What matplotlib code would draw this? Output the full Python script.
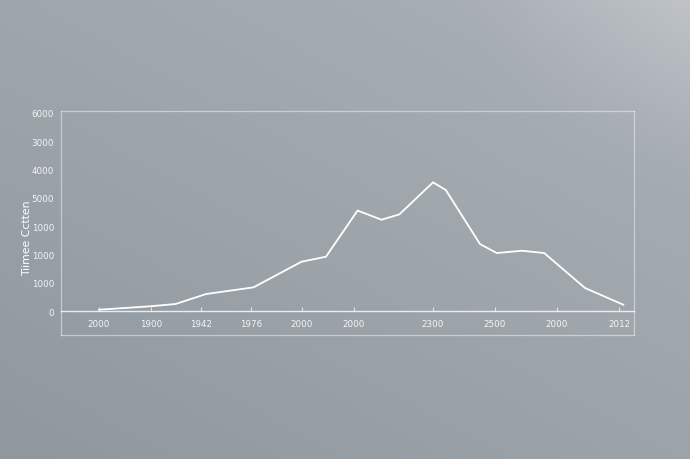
import numpy as np
import matplotlib
matplotlib.use("Agg")
import matplotlib.pyplot as plt
from matplotlib.colors import LinearSegmentedColormap

# data (x in tick-position units, y in values)
x_vals = [0, 1, 1.5, 2.1, 3.03, 3.97, 4.45, 5.07, 5.54, 5.89, 6.55, 6.8, 7.47, 7.8, 8.29, 8.73, 9.53, 10.28]
y_vals = [46, 166, 247, 600, 837, 1742, 1919, 3551, 3226, 3417, 4548, 4276, 2367, 2049, 2131, 2049, 813, 223]

x_ticks = [0, 1.02, 2, 2.98, 3.98, 5, 6.55, 7.76, 8.98, 10.2]
x_labels = ["2000", "1900", "1942", "1976", "2000", "2000", "2300", "2500", "2000", "2012"]
y_ticks = [0, 1000, 2000, 3000, 4000, 5000, 6000, 7000]
y_labels = ["0", "1000", "1000", "1000", "5000", "4000", "3000", "6000"]
y_title = "Tiimee Cctten"

W, H = 690, 460
fig = plt.figure(figsize=(W / 100, H / 100), dpi=100)

# gradient background
bg = fig.add_axes([0, 0, 1, 1])
gx, gy = np.meshgrid(np.linspace(0, 1, 200), np.linspace(0, 1, 200))
g = 0.45 * gx + 0.55 * gy
g = g + 0.35 * np.clip((gx - 0.7) * 2, 0, 1) * np.clip((gy - 0.6) * 2.5, 0, 1)
cmap = LinearSegmentedColormap.from_list("bg", ["#8f989f", "#9ba3a9", "#a5acb2", "#bfc3c8"])
bg.imshow(g, cmap=cmap, origin="lower", extent=[0, 1, 0, 1], aspect="auto")
bg.axis("off")

# plot area in pixels: x 61..634, y 112..336
left, right, top, bottom = 61, 634, 112, 336
ax = fig.add_axes([left / W, 1 - bottom / H, (right - left) / W, (bottom - top) / H])
ax.patch.set_alpha(0)

px_per_unit = 51.0
ax.set_xlim(-(99 - left) / px_per_unit, (right - 99) / px_per_unit)
px_per_k = 28.3
ax.set_ylim(-(bottom - 312) / px_per_k * 1000, 7000 + (114 - top) / px_per_k * 1000)

ax.plot(x_vals, y_vals, color="white", lw=1.3, solid_joinstyle="miter")

box_col = (1, 1, 1, 0.45)
for s in ["left", "right", "top"]:
    ax.spines[s].set_color(box_col)
    ax.spines[s].set_linewidth(0.9)
ax.spines["bottom"].set_position(("data", 0))
ax.spines["bottom"].set_color((1, 1, 1, 0.8))
ax.spines["bottom"].set_linewidth(1.0)
ax.plot([0, 1], [0, 0], transform=ax.transAxes, color=box_col, lw=0.9, clip_on=False)

ax.set_xticks(x_ticks)
ax.set_xticklabels(x_labels)
ax.tick_params(axis="x", direction="in", length=3, width=0.8, color=(1, 1, 1, 0.7),
               labelsize=6.3, labelcolor="#f4f5f6", pad=6)
ax.set_yticks(y_ticks)
ax.set_yticklabels(y_labels)
ax.tick_params(axis="y", length=0, labelsize=6.3, labelcolor="#f4f5f6", pad=5)

fig.text(27 / W, 1 - 238 / H, y_title, rotation=90, color="white", fontsize=7.8,
         ha="center", va="center")

fig.savefig("out.png", dpi=100)
